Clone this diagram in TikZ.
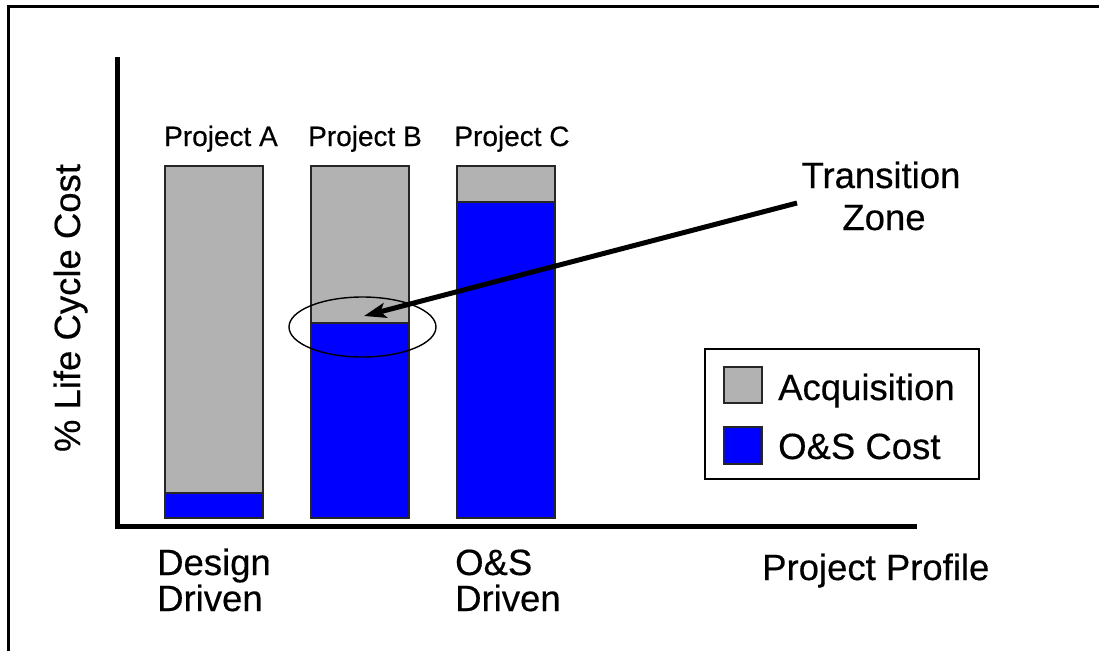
\documentclass[tikz,border=0pt]{standalone}
\usepackage{fontspec}
\setmainfont{Liberation Sans}[FakeBold=0.4]
\usetikzlibrary{arrows.meta,shapes.geometric}
\definecolor{acqgray}{RGB}{178,178,178}
\definecolor{osblue}{RGB}{0,0,255}
\tikzset{
  bigtext/.style={font=\fontsize{36.5}{42}\selectfont, inner sep=0pt},
  projtext/.style={font=\fontsize{28}{32}\selectfont, inner sep=0pt},
  barpart/.style={draw=black!85, line width=1.4pt},
  axisline/.style={line width=5pt},
}
\begin{document}
\begin{tikzpicture}[x=1pt,y=-1pt]
\useasboundingbox (0,0) rectangle (1099,651);
\fill[white] (0,0) rectangle (1099,651);

% outer frame (top and left edges)
\draw[line width=3pt] (8,651) -- (8,6) -- (1099,6);

% axes
\coordinate (origin) at (117,526);
\coordinate (ytop) at (117,57);
\coordinate (xend) at (917,526);
\draw[axisline] (ytop) -- (origin) -- (xend);

% bars: acquisition (gray) above O&S cost (blue)
\draw[barpart, fill=acqgray] (165,166) rectangle (263,493);
\draw[barpart, fill=osblue]  (165,493) rectangle (263,518);

\draw[barpart, fill=acqgray] (311,166) rectangle (409,323);
\draw[barpart, fill=osblue]  (311,323) rectangle (409,518);

\draw[barpart, fill=acqgray] (457,166) rectangle (555,202);
\draw[barpart, fill=osblue]  (457,202) rectangle (555,518);

% project labels
\node[projtext, anchor=base] (pa) at (221,146) {Project A};
\node[projtext, anchor=base] (pb) at (365,146) {Project B};
\node[projtext, anchor=base] (pc) at (512,146) {Project C};

% transition zone marker
\node[draw, line width=1.4pt, ellipse, minimum width=147pt, minimum height=60pt, inner sep=0pt] (zone) at (362.5,327) {};
\coordinate (tip) at (364,316);
\coordinate (tail) at (797,203);
\draw[line width=5pt, -{Stealth[length=22pt,width=15pt,inset=5pt]}] (tail) -- (tip);

\node[bigtext, anchor=base] (trans) at (881,188) {Transition};
\node[bigtext, anchor=base] (zonetext) at (884,230) {Zone};

% legend
\node[draw, line width=2pt, minimum width=274pt, minimum height=130pt, inner sep=0pt, anchor=north west] (legend) at (704,348) {};
\draw[barpart, fill=acqgray] (724,367) rectangle (762,403);
\draw[barpart, fill=osblue]  (724,427) rectangle (762,464);
\node[bigtext, anchor=base west] (acq) at (778,400) {Acquisition};
\node[bigtext, anchor=base west] (os) at (778,459) {O\&S Cost};

% axis labels
\node[bigtext, anchor=base, rotate=90] (ylab) at (80,308) {\% Life Cycle Cost};
\node[bigtext, anchor=base west] (des1) at (157,575) {Design};
\node[bigtext, anchor=base west] (des2) at (157,611) {Driven};
\node[bigtext, anchor=base west] (os1) at (455,575) {O\&S};
\node[bigtext, anchor=base west] (os2) at (455,611) {Driven};
\node[bigtext, anchor=base west] (prof) at (762,580) {Project Profile};
\end{tikzpicture}
\end{document}
